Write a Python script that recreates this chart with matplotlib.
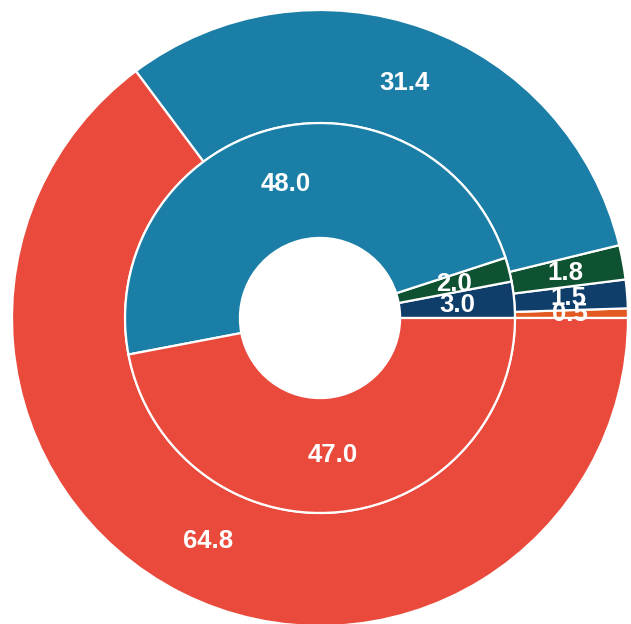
import matplotlib.pyplot as plt

# outer ring values (counterclockwise from 3 o'clock)
outer_values = [0.5, 1.5, 1.8, 31.4, 64.8]
outer_colors = ["#E25A22", "#0F3E6B", "#0E5232", "#1B7EA6", "#E94A3C"]

# inner ring values
inner_values = [3.0, 2.0, 48.0, 47.0]
inner_colors = ["#0F3E6B", "#0E5232", "#1B7EA6", "#E94A3C"]

outer_r = 1.0
inner_r = 0.633
hole_r = 0.26

fig = plt.figure(figsize=(6.31, 6.24), dpi=100)
ax = fig.add_axes([12 / 631, -2 / 624, 616 / 631, 616 / 624])

textprops = dict(color="white", fontsize=18.5, fontweight="bold", family="Liberation Sans")
wedge_style = dict(edgecolor="white", linewidth=1.6)

ax.pie(outer_values, radius=outer_r, colors=outer_colors, startangle=0,
       counterclock=True, autopct="%.1f", pctdistance=0.81,
       wedgeprops=dict(width=outer_r - inner_r, **wedge_style),
       textprops=textprops)

ax.pie(inner_values, radius=inner_r, colors=inner_colors, startangle=0,
       counterclock=True, autopct="%.1f", pctdistance=0.708,
       wedgeprops=dict(width=inner_r - hole_r, **wedge_style),
       textprops=textprops)

ax.set_xlim(-1, 1)
ax.set_ylim(-1, 1)
ax.set_aspect("auto")
ax.axis("off")

fig.savefig("out.png", dpi=100)
